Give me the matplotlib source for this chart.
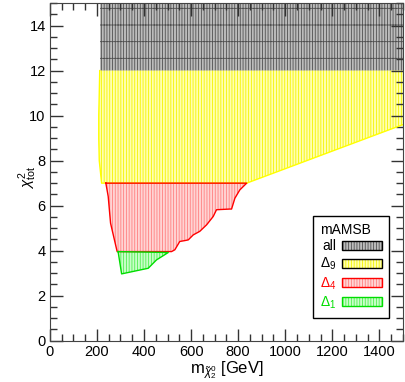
import matplotlib
matplotlib.use('Agg')
import matplotlib.pyplot as plt
from matplotlib.patches import Patch
from matplotlib.ticker import MultipleLocator

# region boundaries (x in GeV, y = chi2_tot)
all_x = [212, 1500, 1500, 212]
all_y = [12.0, 12.0, 15.0, 15.0]

d9_x = [212, 208, 208, 210, 220, 836, 1500, 1500]
d9_y = [12.0, 10.0, 9.0, 8.0, 7.0, 7.0, 9.6, 12.0]

d4_x = [238, 248, 258, 276, 286, 517, 531, 552, 574, 588, 609, 637, 666,
        694, 708, 765, 772, 786, 807, 836]
d4_y = [7.0, 6.41, 5.22, 4.41, 3.96, 3.96, 4.04, 4.41, 4.45, 4.48, 4.70,
        4.86, 5.15, 5.52, 5.82, 5.85, 5.85, 6.33, 6.70, 7.0]

d1_x = [290, 305, 418, 453, 503]
d1_y = [3.96, 2.97, 3.22, 3.59, 3.92]

labels = ['all', r'$\Delta_9$', r'$\Delta_4$', r'$\Delta_1$']
label_colors = ['black', 'black', '#ff0000', '#00dd00']

plt.rcParams['font.family'] = ['Liberation Sans', 'DejaVu Sans']
plt.rcParams['mathtext.fontset'] = 'custom'
plt.rcParams['mathtext.rm'] = 'Liberation Sans'
plt.rcParams['mathtext.it'] = 'Liberation Sans:italic'
plt.rcParams['hatch.linewidth'] = 0.6

fig = plt.figure(figsize=(4.05, 3.82), dpi=100)
ax = fig.add_axes([0.123, 0.108, 0.872, 0.884])

fills = [('#bcbcbc', '#505050'), ('#ffffb0', '#f4f400'),
         ('#ffd4d4', '#ff8080'), ('#c8ffc8', '#50ee50')]

ax.fill(all_x, all_y, facecolor=fills[0][0], edgecolor=fills[0][1], hatch='|||||+', linewidth=0)
ax.fill(d9_x, d9_y, facecolor=fills[1][0], edgecolor=fills[1][1], hatch='||||||', linewidth=0)
ax.plot(d9_x[:6], d9_y[:6], color='#ffff00', lw=1)
ax.plot(d9_x[5:7], d9_y[5:7], color='#ffff00', lw=1)
ax.fill(d4_x, d4_y, facecolor=fills[2][0], edgecolor=fills[2][1], hatch='||||||', linewidth=0)
ax.plot(d4_x + [d4_x[0]], d4_y + [d4_y[0]], color='#ff0000', lw=1)
ax.fill(d1_x, d1_y, facecolor=fills[3][0], edgecolor=fills[3][1], hatch='||||||', linewidth=0)
ax.plot(d1_x + [d1_x[0]], d1_y + [d1_y[0]], color='#00dd00', lw=1)

ax.set_xlim(0, 1500)
ax.set_ylim(0, 15)
ax.xaxis.set_major_locator(MultipleLocator(200))
ax.xaxis.set_minor_locator(MultipleLocator(50))
ax.yaxis.set_major_locator(MultipleLocator(2))
ax.yaxis.set_minor_locator(MultipleLocator(0.5))
ax.tick_params(which='both', direction='in', top=True, right=True, labelsize=10.5,
               color='#333333', pad=3)
ax.tick_params(which='major', length=9, width=1)
ax.tick_params(which='minor', length=5, width=1)
for s in ax.spines.values():
    s.set_color('#444444')

ax.set_xlabel(r'm$_{\tilde{\chi}^0_2}$ [GeV]', fontsize=12, labelpad=0)
ax.set_ylabel(r'$\chi^2_{\rm tot}$', fontsize=11)
ax.yaxis.set_label_coords(-0.03, 0.485)

legend_edges = ['black', 'black', '#ff0000', '#00dd00']
handles = []
for (fc, hc), ec in zip(fills, legend_edges):
    handles.append((Patch(facecolor=fc, edgecolor=hc, hatch='||||||', linewidth=0),
                    Patch(fill=False, edgecolor=ec, linewidth=1)))
leg = ax.legend(handles, labels, title='mAMSB', loc='lower right',
                bbox_to_anchor=(0.96, 0.068),
                markerfirst=False, fontsize=10, title_fontsize=10, fancybox=False,
                edgecolor='black', framealpha=1, handlelength=2.9, handleheight=0.65,
                handletextpad=0.4, labelspacing=0.2, borderpad=0.5,
                alignment='left', borderaxespad=0)
leg.get_frame().set_linewidth(1)
for t, c in zip(leg.get_texts(), label_colors):
    t.set_color(c)

fig.savefig('out.png', dpi=100)
